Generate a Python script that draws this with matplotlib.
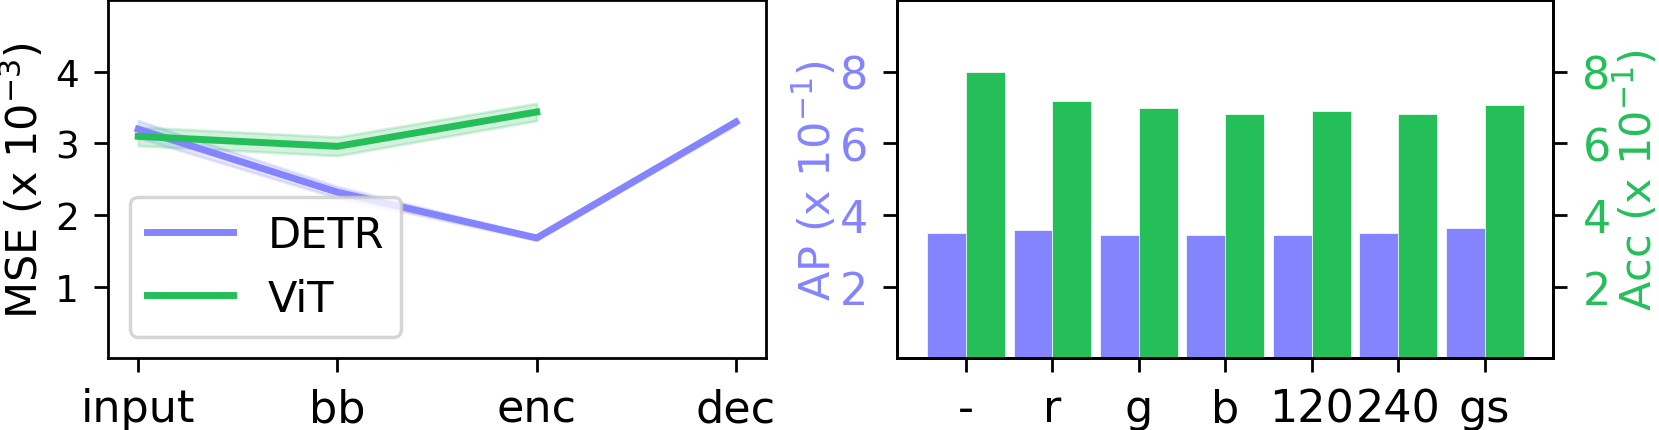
import numpy as np
import matplotlib
matplotlib.use('Agg')
import matplotlib.pyplot as plt

# left panel: MSE per stage
stages = ['input', 'bb', 'enc', 'dec']
detr_mse = [3.20, 2.32, 1.68, 3.30]
detr_err = [0.12, 0.08, 0.03, 0.04]
vit_mse = [3.10, 2.96, 3.44]
vit_err = [0.13, 0.13, 0.12]

# right panel: AP / Acc per colour transform
transforms = ['-', 'r', 'g', 'b', '120', '240', 'gs']
ap = [3.51, 3.59, 3.44, 3.45, 3.43, 3.49, 3.64]
acc = [8.00, 7.20, 6.98, 6.82, 6.91, 6.81, 7.08]

purple = '#8484FF'
green = '#25BF5A'

plt.rcParams['font.family'] = 'DejaVu Sans'
plt.rcParams['axes.linewidth'] = 2.0
plt.rcParams['xtick.major.size'] = 10
plt.rcParams['ytick.major.size'] = 10
plt.rcParams['xtick.major.width'] = 2.0
plt.rcParams['ytick.major.width'] = 2.0
plt.rcParams['xtick.major.pad'] = 11
plt.rcParams['ytick.major.pad'] = 11

fig = plt.figure(figsize=(16.59, 4.31), dpi=100)
ax1 = fig.add_axes([0.0653, 0.1664, 0.3963, 0.8306])
ax3 = fig.add_axes([0.5409, 0.1664, 0.3954, 0.8306])

# --- left: line plot with error bands
xd = np.arange(len(detr_mse))
xv = np.arange(len(vit_mse))
d = np.array(detr_mse); de = np.array(detr_err)
v = np.array(vit_mse); ve = np.array(vit_err)
ax1.fill_between(xd, d - de, d + de, color=purple, alpha=0.2, lw=2)
ax1.fill_between(xv, v - ve, v + ve, color=green, alpha=0.2, lw=2)
ax1.plot(xd, d, color=purple, lw=5, label='DETR')
ax1.plot(xv, v, color=green, lw=5, label='ViT')
ax1.set_ylim(0, 5)
ax1.set_yticks([1, 2, 3, 4])
ax1.set_xticks(xd)
ax1.set_xticklabels(stages, fontsize=32)
ax1.tick_params(axis='y', labelsize=27)
ax1.set_ylabel('MSE (x $10^{-3}$)', fontsize=31, labelpad=6)
leg = ax1.legend(loc='lower left', fontsize=31, handlelength=2.0)
leg.get_frame().set_linewidth(2.5)

# --- right: bars on twin axes
x = np.arange(len(transforms))
w = 0.45
ax4 = ax3.twinx()
ax3.bar(x - w / 2, ap, w, color=purple, edgecolor='white', linewidth=0.5)
ax4.bar(x + w / 2, acc, w, color=green, edgecolor='white', linewidth=0.5)
ax3.set_xlim(-0.795, 6.795)
ax3.set_ylim(0, 10)
ax4.set_ylim(0, 10)
ax3.set_yticks([2, 4, 6, 8])
ax4.set_yticks([2, 4, 6, 8])
ax3.set_xticks(x)
ax3.set_xticklabels(transforms, fontsize=32)
ax3.tick_params(axis='y', labelsize=32, labelcolor=purple)
ax4.tick_params(axis='y', labelsize=32, labelcolor=green)
ax3.set_ylabel('AP (x $10^{-1}$)', fontsize=31, color=purple, labelpad=0)
ax4.set_ylabel('Acc (x $10^{-1}$)', fontsize=31, color=green, labelpad=2)

fig.savefig('out.png', dpi=100)
